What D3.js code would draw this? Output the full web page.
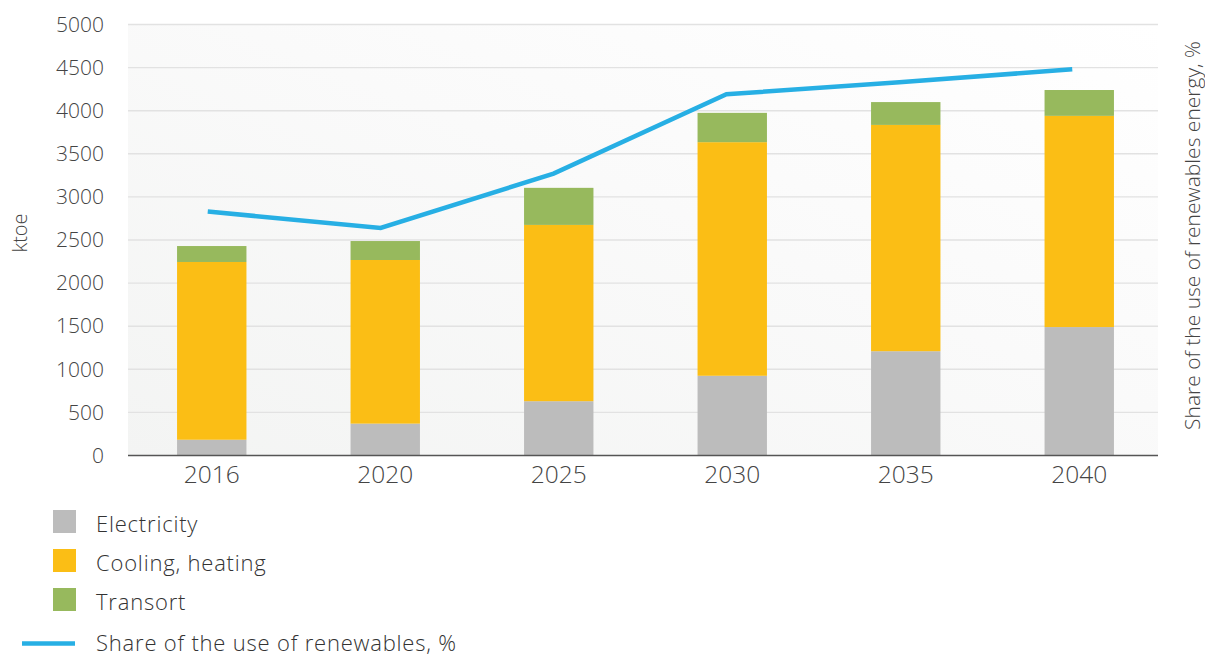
<!DOCTYPE html>
<html>
  <head>
    <title>Renewables</title>
    <meta charset="utf-8">
    <style>
      body {
        margin: 0;
        background-color: white;
      }
      svg text {
        font-family: "Open Sans", sans-serif;
        font-weight: 300;
        fill: #444;
      }
      .axis text {
        font-size: 21px;
      }
      .xaxis text {
        font-size: 24.5px;
      }
      .grid line {
        stroke: #e2e2e2;
        stroke-width: 1.4;
      }
      .legend text {
        font-size: 22px;
        letter-spacing: 0.8px;
        fill: #333;
      }
    </style>
  </head>
  <body>
  <svg id="chart"></svg>
  <script src="https://d3js.org/d3.v7.min.js"></script>
  <script>

  var years = ["2016", "2020", "2025", "2030", "2035", "2040"];
  var electricity = [183, 370, 630, 925, 1210, 1490];
  var cooling = [2062, 1898, 2045, 2710, 2625, 2450];
  var transport = [185, 220, 430, 340, 265, 300];
  var share = [28.3, 26.4, 32.7, 41.9, 43.3, 44.8];
  var yTicks = [0, 500, 1000, 1500, 2000, 2500, 3000, 3500, 4000, 4500, 5000];

  var seriesNames = ["Electricity", "Cooling, heating", "Transort"];
  var colors = {electricity: "#bcbcbc", cooling: "#fbbe15", transport: "#97b95d", share: "#27afe4"};

  var width = 1205, height = 655;
  var plot = {left: 128, right: 1158, top: 24.5, bottom: 455.5};

  var svg = d3.select("#chart")
    .attr("width", width)
    .attr("height", height);

  // soft grey to white plot background
  var grad = svg.append("defs").append("linearGradient")
    .attr("id", "bg")
    .attr("x1", "0%").attr("y1", "100%")
    .attr("x2", "100%").attr("y2", "0%");
  grad.append("stop").attr("offset", "0%").attr("stop-color", "#f3f4f3");
  grad.append("stop").attr("offset", "55%").attr("stop-color", "#fafafa");
  grad.append("stop").attr("offset", "100%").attr("stop-color", "#ffffff");

  svg.append("rect")
    .attr("x", plot.left)
    .attr("y", plot.top)
    .attr("width", plot.right - plot.left)
    .attr("height", plot.bottom - plot.top)
    .attr("fill", "url(#bg)");

  var x = d3.scaleBand()
    .domain(years)
    .range([125, 1166])
    .paddingInner(0.6)
    .paddingOuter(0.3);

  var y = d3.scaleLinear()
    .domain([0, 5000])
    .range([plot.bottom, plot.top]);

  // right axis for the share line (no tick labels in the original)
  var yRight = d3.scaleLinear()
    .domain([0, 50])
    .range([plot.bottom, plot.top]);

  var xLine = d3.scalePoint()
    .domain(years)
    .range([x("2016") + x.bandwidth() / 2 - 4, x("2040") + x.bandwidth() / 2 - 7]);

  // gridlines
  svg.append("g")
    .attr("class", "grid")
    .selectAll("line")
    .data(yTicks.slice(1))
    .enter().append("line")
    .attr("x1", plot.left)
    .attr("x2", plot.right)
    .attr("y1", function(d) { return y(d); })
    .attr("y2", function(d) { return y(d); });

  // stacked bars
  var table = years.map(function(yr, i) {
    return {year: yr, electricity: electricity[i], cooling: cooling[i], transport: transport[i]};
  });
  var keys = ["electricity", "cooling", "transport"];
  var stacked = d3.stack().keys(keys)(table);

  svg.append("g")
    .selectAll("g")
    .data(stacked)
    .enter().append("g")
    .attr("fill", function(d) { return colors[d.key]; })
    .selectAll("rect")
    .data(function(d) { return d; })
    .enter().append("rect")
    .attr("x", function(d) { return x(d.data.year); })
    .attr("y", function(d) { return y(d[1]); })
    .attr("width", x.bandwidth())
    .attr("height", function(d) { return y(d[0]) - y(d[1]); });

  // share line
  var line = d3.line()
    .x(function(d, i) { return xLine(years[i]); })
    .y(function(d) { return yRight(d); });

  svg.append("path")
    .datum(share)
    .attr("d", line)
    .attr("fill", "none")
    .attr("stroke", colors.share)
    .attr("stroke-width", 4.5);

  // x axis
  var xAxis = svg.append("g")
    .attr("class", "axis xaxis")
    .attr("transform", "translate(0," + plot.bottom + ")")
    .call(d3.axisBottom(x).tickSize(0).tickPadding(10));
  xAxis.select(".domain").remove();

  svg.append("line")
    .attr("x1", plot.left)
    .attr("x2", plot.right)
    .attr("y1", plot.bottom)
    .attr("y2", plot.bottom)
    .attr("stroke", "#555")
    .attr("stroke-width", 1.6);

  // y axis
  var yAxis = svg.append("g")
    .attr("class", "axis")
    .attr("transform", "translate(104,0)")
    .call(d3.axisLeft(y).tickValues(yTicks).tickSize(0).tickPadding(0).tickFormat(d3.format("d")));
  yAxis.select(".domain").remove();

  svg.append("text")
    .attr("transform", "translate(27,233) rotate(-90)")
    .style("text-anchor", "middle")
    .style("font-size", "20px")
    .text("ktoe");

  svg.append("text")
    .attr("transform", "translate(1200,235.5) rotate(-90)")
    .style("text-anchor", "middle")
    .style("font-size", "21px")
    .text("Share of the use of renewables energy, %");

  // legend
  var legend = svg.append("g").attr("class", "legend");
  var boxColors = [colors.electricity, colors.cooling, colors.transport];
  seriesNames.forEach(function(name, i) {
    var top = 510 + i * 39;
    legend.append("rect")
      .attr("x", 53).attr("y", top)
      .attr("width", 23).attr("height", 23)
      .attr("fill", boxColors[i]);
    legend.append("text")
      .attr("x", 96).attr("y", top + 21.5)
      .text(name);
  });
  legend.append("line")
    .attr("x1", 22).attr("x2", 75)
    .attr("y1", 643.5).attr("y2", 643.5)
    .attr("stroke", colors.share)
    .attr("stroke-width", 4.5);
  legend.append("text")
    .attr("x", 96).attr("y", 650.5)
    .text("Share of the use of renewables, %");

  </script>
  </body>
</html>
